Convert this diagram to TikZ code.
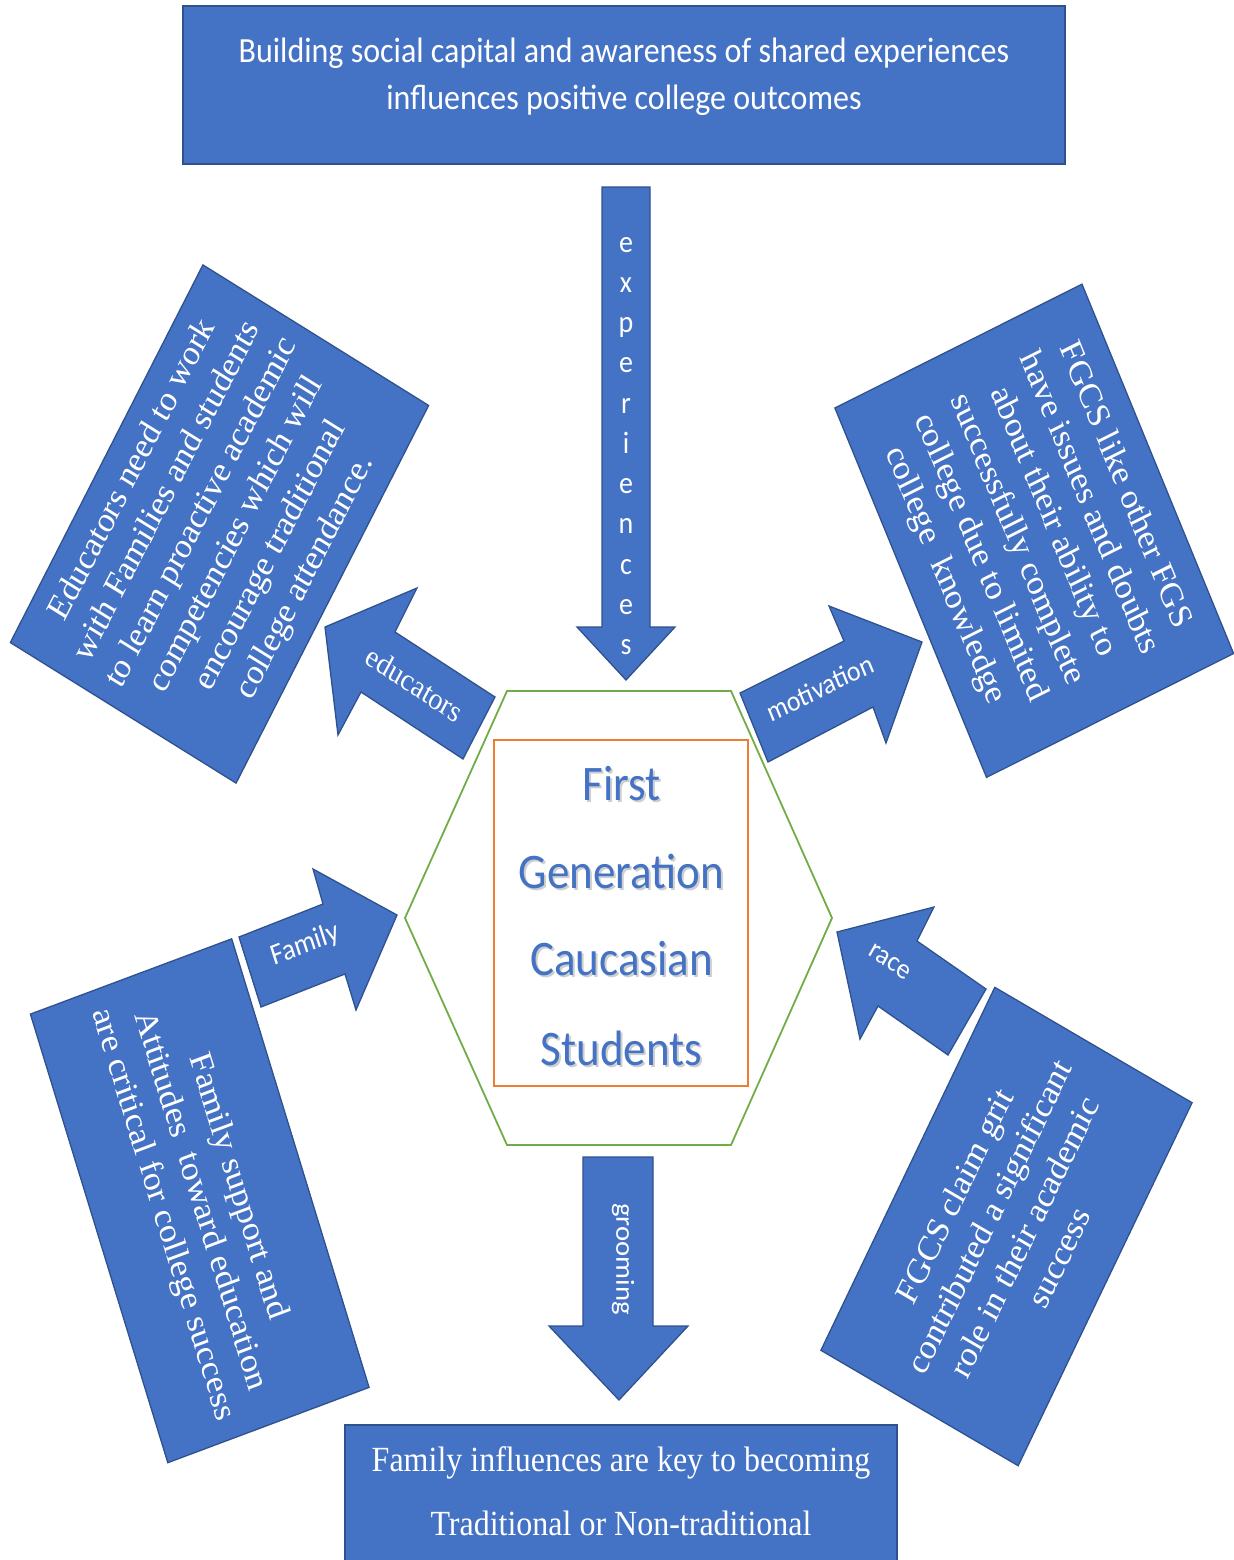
\documentclass[tikz,border=0pt]{standalone}
\usepackage{fontspec}
\setmainfont{Liberation Serif}
\newfontfamily\carlito{Carlito}
\definecolor{boxblue}{RGB}{68,114,196}
\definecolor{boxedge}{RGB}{47,82,143}
\definecolor{hexgreen}{RGB}{112,173,71}
\definecolor{rectorange}{RGB}{237,125,49}
\begin{document}
\begin{tikzpicture}[x=1pt, y=-0.904977pt, yscale=1.105, transform shape,
  bluebox/.style={fill=boxblue, draw=boxedge, line width=1.3pt, text=white, inner sep=0pt, align=center},
  serifbox/.style={bluebox, font=\fontsize{32.5}{39.5}\selectfont},
  blockarrow/.style={fill=boxblue, draw=boxedge, line width=1.3pt, line join=miter},
  lbl/.style={text=white, inner sep=0pt, align=center},
  sanslbl/.style={lbl, font=\carlito\fontsize{26}{28}\selectfont},
  toptext/.style={text=white, inner sep=0pt, anchor=base, font=\carlito\fontsize{32}{36}\selectfont},
  bottext/.style={text=white, inner sep=0pt, anchor=base, font=\fontsize{32}{36}\selectfont},
  centertext/.style={text=boxblue, inner sep=0pt, anchor=base, font=\carlito\fontsize{45}{50}\selectfont},
  centershadow/.style={centertext, text=black!55, opacity=0.35}
]
\useasboundingbox (0,0) rectangle (1234,1560);

% top box
\node[bluebox, minimum width=882, minimum height=143] (topbox) at (624,85) {};
\node[toptext] (topline1) at (624,62) {Building social capital and awareness of shared experiences};
\node[toptext] (topline2) at (624,109) {influences positive college outcomes};

% bottom box
\node[bluebox, minimum width=552, minimum height=140.3] (botbox) at (621,1502.5) {};
\node[bottext] (botline1) at (621,1471) {Family influences are key to becoming};
\node[bottext] (botline2) at (621,1535) {Traditional or Non-traditional};

% hexagon and inner rectangle
\draw[hexgreen, line width=1.8pt, line join=miter] (507,691) -- (731,691) -- (832,918) -- (731,1145) -- (507,1145) -- (405,918) -- cycle;
\node[draw=rectorange, line width=2.2pt, minimum width=254, minimum height=313.1, inner sep=0pt] (core) at (621,913) {};

\foreach \w/\yy [count=\i] in {First/800, Generation/888, Caucasian/975, Students/1065}{
  \node[centershadow] (shadow\i) at (623.5,\yy+2.5) {\w};
  \node[centertext] (core\i) at (621.5,\yy) {\w};
}

% block arrows
\draw[blockarrow] (602,187) -- (650,187) -- (650,627) -- (675,627) -- (626,680) -- (577,627) -- (602,627) -- cycle;
\draw[blockarrow] (583,1157) -- (653,1157) -- (653,1326) -- (688,1326) -- (619,1400) -- (549,1326) -- (583,1326) -- cycle;
\draw[blockarrow] (325,627) -- (417,588) -- (395,632) -- (495,697) -- (463,759) -- (361,692) -- (338,735) -- cycle;
\draw[blockarrow] (740,693) -- (844,641) -- (829,606) -- (922,642) -- (886,743) -- (873,707) -- (768,762) -- cycle;
\draw[blockarrow] (239,937) -- (323,904) -- (313,869) -- (397,915) -- (356,1010) -- (345,974) -- (261,1007) -- cycle;
\draw[blockarrow] (837,932) -- (934,907) -- (917,941) -- (986,989) -- (948,1055) -- (878,1006) -- (860,1039) -- cycle;

% arrow labels
\node[lbl, font=\carlito\fontsize{28}{36.4}\selectfont] (explbl) at (626,446) {e\\x\\p\\e\\r\\i\\e\\n\\c\\e\\s};
\node[sanslbl, rotate=-90] (groomlbl) at (623,1259) {grooming};
\node[lbl, font=\fontsize{28}{30}\selectfont, rotate=-30.7] (edulbl) at (415,684) {educators};
\node[sanslbl, rotate=24.3] (motlbl) at (820,688) {motivation};
\node[sanslbl, font=\carlito\fontsize{27}{29}\selectfont, rotate=19.6] (famlbl) at (305,945) {Family};
\node[sanslbl, rotate=-32.2] (racelbl) at (890,962) {race};

% rotated text boxes
\node[serifbox, rotate=60.6, minimum width=392.3, minimum height=259.1] (edubox) at (219.5,524)
  {Educators need to work\\with Families and students\\to learn proactive academic\\competencies which will\\encourage traditional\\college attendance.};
\node[serifbox, rotate=-65.6, minimum width=367.1, minimum height=271.3] (motbox) at (1034.25,530.75)
  {FGCS like other FGS\\have issues and doubts\\about their ability to\\successfully complete\\college due to limited\\college\ \ knowledge};
\node[serifbox, rotate=-71.3, minimum width=428.6, minimum height=212.5] (fambox) at (199.75,1200.75)
  {Family support and\\Attitudes\ \ toward education\\are critical for college success};
\node[serifbox, rotate=62.1, minimum width=371.7, minimum height=223.2] (racebox) at (1006.5,1226.5)
  {FGCS claim grit\\contributed a significant\\role in their academic\\success};
\end{tikzpicture}
\end{document}
